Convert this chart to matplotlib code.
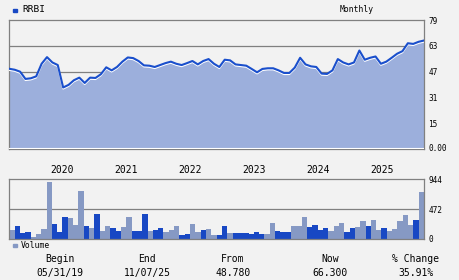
import numpy as np
import matplotlib
matplotlib.use('Agg')
import matplotlib.pyplot as plt
import matplotlib.transforms as mtransforms

# monthly closes, 05/2019 .. 11/2025
prices = [48.78, 48.2, 47.0, 42.5, 42.9, 44.1, 51.9, 56.0, 52.7, 51.1,
          37.2, 38.8, 41.7, 43.3, 40.0, 43.3, 43.1, 45.4, 49.7, 47.8,
          49.9, 53.2, 55.8, 55.4, 53.6, 50.9, 50.7, 49.9, 51.1, 52.3,
          53.2, 51.9, 51.1, 52.3, 53.6, 51.5, 53.6, 54.8, 51.9, 49.9,
          54.4, 54.0, 51.5, 51.1, 50.7, 48.7, 46.6, 48.7, 49.1, 49.1,
          47.8, 46.2, 46.2, 49.5, 55.6, 51.5, 50.3, 49.9, 45.8, 45.6,
          47.8, 54.8, 52.7, 51.5, 52.7, 60.1, 54.4, 55.6, 56.4, 51.9,
          53.2, 55.6, 58.1, 59.7, 64.6, 64.2, 65.5, 66.3]

volumes = [142, 206, 95, 111, 32, 79, 158, 901, 237, 111, 348, 332, 221, 759, 206, 174, 395, 126, 206, 174,
           126, 190, 348, 126, 126, 395, 126, 142, 174, 111, 142, 206, 63, 79, 237, 111, 142, 158, 63, 63,
           206, 95, 95, 95, 95, 79, 111, 79, 79, 253, 126, 111, 111, 206, 206, 348, 190, 221, 142, 174,
           126, 206, 253, 111, 174, 190, 285, 206, 301, 142, 174, 126, 158, 285, 380, 221, 301, 743]

# d = dark bar, l = light bar
bar_kind = "".join(["ldddlllldddllldldlld",
                    "dlldddlddlllddlldlld",
                    "dlddddddlldddllldddd",
                    "lllddlldlldllllldl"])

years = ['2020', '2021', '2022', '2023', '2024', '2025']
year_pos = [9.8, 21.7, 33.6, 45.5, 57.3, 69.2]

price_ticks = [0, 15, 31, 47, 63, 79]
price_tick_labels = ['0.00', '15', '31', '47', '63', '79']
vol_ticks = [0, 472, 944]

footer_heads = ['Begin', 'End', 'From', 'Now', '% Change']
footer_vals = ['05/31/19', '11/07/25', '48.780', '66.300', '35.91%']

BG = '#f2f2f2'
FILL = '#9cafdc'
LINE = '#1a4fcc'
DARK = '#1848c4'
LIGHT = '#8699c4'
GRID = '#808080'
W, H = 460, 280
MONO = 'DejaVu Sans Mono'

fig = plt.figure(figsize=(W / 100, H / 100), dpi=100, facecolor=BG)


def px_axes(x0, y0, x1, y1):
    return fig.add_axes([x0 / W, 1 - y1 / H, (x1 - x0) / W, (y1 - y0) / H])


def style(ax):
    ax.set_facecolor(BG)
    for s in ax.spines.values():
        s.set_color(GRID)
        s.set_linewidth(0.9)
    ax.tick_params(length=0, labelsize=5.6, colors='black', labelfontfamily=MONO)
    ax.yaxis.tick_right()
    ax.set_xticks([])


# price panel
ax = px_axes(9.3, 20, 424, 149)
style(ax)
x = np.arange(len(prices))
ax.set_xlim(0, len(prices) - 1)
ax.set_ylim(-0.9, 79)
for g in [47, 63]:
    ax.axhline(g, color=GRID, lw=0.9, zorder=1)
ax.fill_between(x, 0, prices, color=FILL, lw=0, zorder=2)
ax.axhline(0, color='white', lw=0.8, zorder=3)
shadow = mtransforms.offset_copy(ax.transData, fig=fig, x=0, y=-1.3, units='dots')
ax.plot(x, prices, color='white', lw=1.2, transform=shadow, zorder=3)
ax.plot(x, prices, color=LINE, lw=1.5, zorder=4)
ax.set_yticks(price_ticks)
ax.set_yticklabels(price_tick_labels)
ax.tick_params(axis='y', pad=3)

for lab, pos in zip(years, year_pos):
    ax.text(pos, -(170 - 149) / 129, lab, transform=ax.get_xaxis_transform(),
            ha='center', va='center', fontsize=7, family=MONO)

# volume panel
av = px_axes(9.3, 179.3, 424, 239)
style(av)
colors = [DARK if k == 'd' else LIGHT for k in bar_kind]
av.bar(np.arange(len(volumes)), volumes, width=1.0, color=colors, lw=0, zorder=2)
av.set_xlim(-0.5, len(volumes) - 0.5)
av.set_ylim(0, 944)
av.axhline(472, color=GRID, lw=0.9, zorder=1)
av.set_yticks(vol_ticks)
av.set_yticklabels([str(v) for v in vol_ticks])
av.tick_params(axis='y', pad=3)

# header / legends
fig.patches.append(plt.Rectangle((13.3 / W, 1 - 12 / H), 4 / W, 3.5 / H,
                                 transform=fig.transFigure, color=DARK))
fig.text(22.5 / W, 1 - 10 / H, 'RRBI', fontsize=6.8, family=MONO, va='center')
fig.text(357 / W, 1 - 9 / H, 'Monthly', fontsize=5.8, family=MONO, ha='center', va='center')

fig.patches.append(plt.Rectangle((13 / W, 1 - 247 / H), 4 / W, 3.5 / H,
                                 transform=fig.transFigure, color=LIGHT))
fig.text(21 / W, 1 - 245.5 / H, 'Volume', fontsize=5.8, family=MONO, va='center')

# footer
foot_x = [60, 147, 233, 330, 416]
for cx, head, val in zip(foot_x, footer_heads, footer_vals):
    fig.text(cx / W, 1 - 259.5 / H, head, fontsize=7, family=MONO, ha='center', va='center')
    fig.text(cx / W, 1 - 273 / H, val, fontsize=7, family=MONO, ha='center', va='center')

fig.savefig('out.png', dpi=100, facecolor=BG)
